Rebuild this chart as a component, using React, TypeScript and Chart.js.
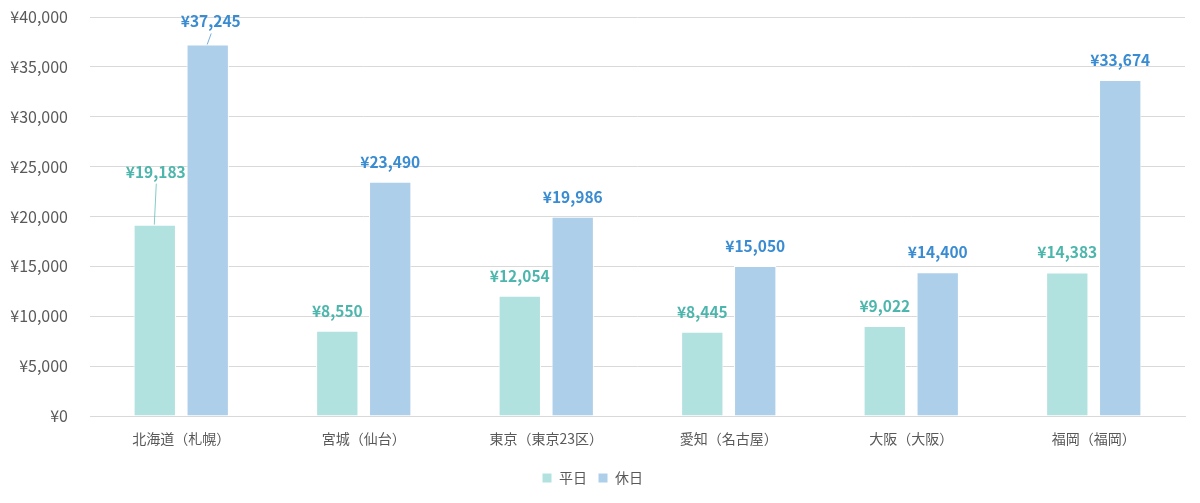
import React, { useEffect, useRef } from "react";
import { Chart, registerables } from "chart.js";

Chart.register(...registerables);

const categories = ["北海道（札幌）", "宮城（仙台）", "東京（東京23区）", "愛知（名古屋）", "大阪（大阪）", "福岡（福岡）"];
const weekday = [19183, 8550, 12054, 8445, 9022, 14383];
const holiday = [37245, 23490, 19986, 15050, 14400, 33674];
const seriesNames = ["平日", "休日"];
const yTicks = [0, 5000, 10000, 15000, 20000, 25000, 30000, 35000, 40000];

const FONT = "'Noto Sans CJK JP', 'Noto Sans', sans-serif";
const barColors = ["#B2E2DF", "#AECFEA"];
const labelColors = ["#4DB6AC", "#3A8CD2"];

// label displacement (dx, extra dy) for labels moved away from bars, with leader lines
const labelShift: Record<string, [number, number]> = {
  "0-0": [1, 33],
  "1-0": [3, 3],
};

const yen = (v: number) => "¥" + v.toLocaleString("en-US");

const labelPlugin = {
  id: "valueLabels",
  afterDatasetsDraw(chart: any) {
    const ctx = chart.ctx;
    ctx.save();
    chart.data.datasets.forEach((ds: any, di: number) => {
      const meta = chart.getDatasetMeta(di);
      meta.data.forEach((el: any, i: number) => {
        const v = ds.data[i];
        const shift = labelShift[`${di}-${i}`];
        const dx = shift ? shift[0] : 0;
        const dy = shift ? shift[1] : 0;
        const lx = el.x + dx;
        const ly = el.y - 20 - dy;
        if (shift) {
          ctx.strokeStyle = labelColors[di];
          ctx.globalAlpha = 0.7;
          ctx.lineWidth = 1;
          ctx.beginPath();
          ctx.moveTo(el.x - 0.5, el.y);
          ctx.lineTo(lx + 0.5, ly + 12);
          ctx.stroke();
          ctx.globalAlpha = 1;
        }
        ctx.fillStyle = labelColors[di];
        ctx.font = `bold 15.5px ${FONT}`;
        ctx.textAlign = "center";
        ctx.textBaseline = "middle";
        ctx.fillText(yen(v), lx, ly);
      });
    });
    ctx.restore();
  },
};

export default function App() {
  const ref = useRef<HTMLCanvasElement>(null);
  useEffect(() => {
    document.body.style.margin = "0";
    const chart = new Chart(ref.current!, {
      type: "bar",
      data: {
        labels: categories,
        datasets: [
          {
            label: seriesNames[0],
            data: weekday,
            backgroundColor: barColors[0],
            borderColor: "#ffffff",
            borderWidth: 1,
            categoryPercentage: 0.58,
            barPercentage: 0.8,
          },
          {
            label: seriesNames[1],
            data: holiday,
            backgroundColor: barColors[1],
            borderColor: "#ffffff",
            borderWidth: 1,
            categoryPercentage: 0.58,
            barPercentage: 0.8,
          },
        ],
      },
      options: {
        animation: false,
        responsive: false,
        layout: { padding: { top: 17, right: 15, left: 0, bottom: 8 } },
        plugins: {
          legend: {
            position: "bottom",
            labels: {
              boxWidth: 10,
              boxHeight: 10,
              padding: 11,
              color: "#595959",
              font: { family: FONT, size: 14 },
            },
          },
          tooltip: { enabled: false },
        },
        scales: {
          x: {
            grid: { display: false },
            border: { color: "#d9d9d9" },
            ticks: { color: "#595959", font: { family: FONT, size: 14 }, padding: 6 },
            afterFit(scale: any) {
              scale.height = 44;
            },
          },
          y: {
            min: 0,
            max: 40000,
            afterBuildTicks(scale: any) {
              scale.ticks = yTicks.map((v) => ({ value: v }));
            },
            grid: { color: "#d9d9d9", drawTicks: true, tickLength: 22, tickColor: "rgba(0,0,0,0)" },
            border: { display: false },
            ticks: {
              color: "#595959",
              font: { family: FONT, size: 16 },
              padding: 0,
              callback: (v: any) => yen(Number(v)),
            },
            afterFit(scale: any) {
              scale.width = 90;
            },
          },
        },
      },
      plugins: [labelPlugin],
    } as any);
    return () => chart.destroy();
  }, []);
  return (
    <div style={{ width: 1200, height: 503 }}>
      <canvas ref={ref} width={1200} height={503} />
    </div>
  );
}
